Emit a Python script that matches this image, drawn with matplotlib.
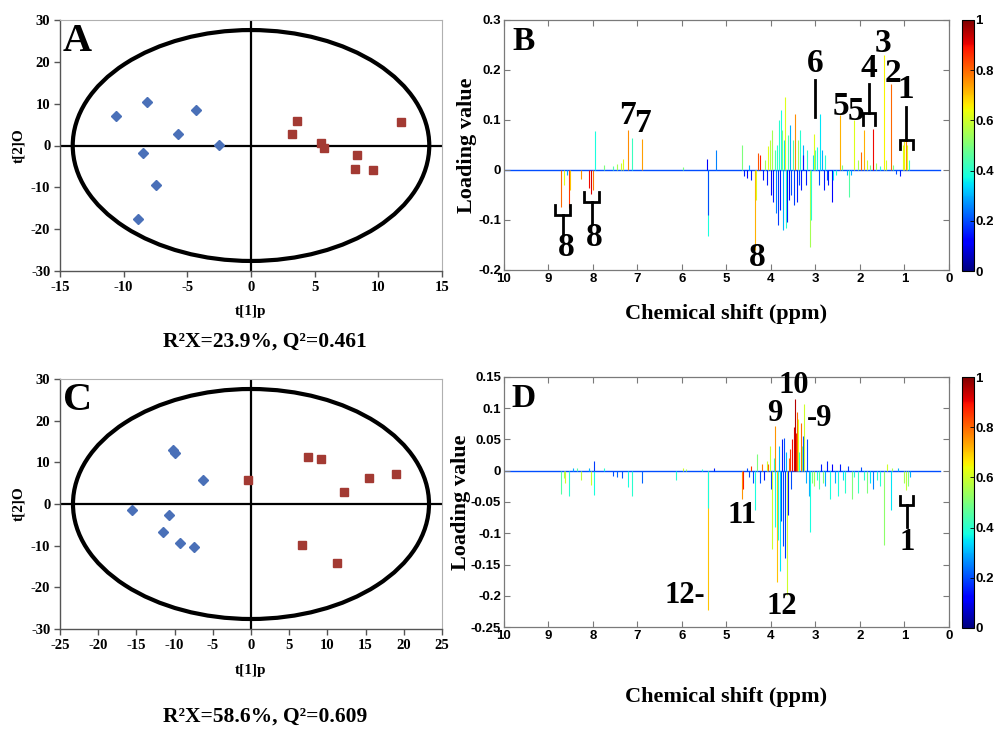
import matplotlib
matplotlib.use('Agg')
import matplotlib.pyplot as plt
from matplotlib.patches import Ellipse
from matplotlib import cm
from matplotlib.colors import Normalize

plt.rcParams['axes.unicode_minus'] = False
SERIF = 'Liberation Serif'
SANS = 'Liberation Sans'

# ---------------- data: score plots ----------------
A_ctrl_x = [-10.6, -8.2, -4.3, -5.7, -2.5, -8.5, -7.5, -8.9]
A_ctrl_y = [7.1, 10.4, 8.6, 2.7, 0.1, -1.7, -9.5, -17.5]
A_trt_x = [3.2, 3.6, 5.5, 5.7, 8.3, 8.2, 9.6, 11.8]
A_trt_y = [2.8, 5.9, 0.5, -0.7, -2.3, -5.6, -5.9, 5.6]
A_ellipse = [14.0, 27.6]
A_xticks = [-15, -10, -5, 0, 5, 10, 15]

C_ctrl_x = [-10.2, -10.0, -6.3, -15.6, -10.7, -11.5, -9.3, -7.5]
C_ctrl_y = [13.0, 12.2, 5.8, -1.5, -2.6, -6.6, -9.4, -10.3]
C_trt_x = [-0.4, 7.5, 9.1, 12.2, 15.4, 19.0, 6.7, 11.3]
C_trt_y = [5.7, 11.4, 10.8, 3.0, 6.2, 7.1, -9.8, -14.2]
C_ellipse = [23.3, 27.6]
C_xticks = [-25, -20, -15, -10, -5, 0, 5, 10, 15, 20, 25]
score_yticks = [-30, -20, -10, 0, 10, 20, 30]

A_stats = "R²X=23.9%, Q²=0.461"
C_stats = "R²X=58.6%, Q²=0.609"

# ---------------- data: loading plots (ppm, loading, colour weight) ----------------
B_ppm = [8.72, 8.66, 8.58, 8.55, 8.52, 8.27, 8.08, 8.05, 7.99, 7.96, 7.75, 7.55, 7.45, 7.38, 7.33,
         7.21, 7.12, 6.91, 5.98, 5.41, 5.41, 5.43, 5.24, 4.66, 4.60, 4.55, 4.50, 4.45, 4.36, 4.33,
         4.29, 4.25, 4.18, 4.14, 4.10, 4.06, 4.03, 4.00, 3.98, 3.95, 3.92, 3.89, 3.87, 3.85, 3.82,
         3.80, 3.78, 3.76, 3.73, 3.71, 3.69, 3.67, 3.65, 3.62, 3.59, 3.57, 3.54, 3.51, 3.48, 3.46,
         3.42, 3.40, 3.37, 3.35, 3.32, 3.29, 3.27, 3.22, 3.18, 3.12, 3.09, 3.06, 3.03, 3.00, 2.97,
         2.93, 2.90, 2.86, 2.82, 2.79, 2.75, 2.71, 2.64, 2.60, 2.55, 2.45, 2.40, 2.30, 2.24, 2.20,
         2.13, 2.05, 1.98, 1.91, 1.85, 1.78, 1.71, 1.65, 1.55, 1.46, 1.42, 1.31, 1.25, 1.20, 1.10,
         1.03, 1.00, 0.97, 0.94, 0.91]
B_load = [-0.073, -0.030, -0.010, -0.075, -0.040, -0.018, -0.035, -0.047, -0.040, 0.078, 0.010, 0.008,
          0.012, 0.015, 0.023, 0.080, 0.065, 0.062, 0.006, -0.132, -0.090, 0.022, 0.040, 0.050, -0.012,
          -0.015, 0.010, -0.020, -0.160, -0.060, 0.035, 0.030, -0.020, 0.020, -0.030, 0.048, 0.060,
          -0.050, 0.080, -0.063, 0.040, -0.085, 0.050, -0.110, 0.100, -0.080, 0.120, 0.080, -0.120,
          0.060, 0.147, -0.116, -0.103, 0.070, -0.060, 0.090, -0.050, 0.060, -0.070, 0.113, -0.063,
          0.060, -0.030, 0.080, -0.040, 0.050, 0.030, -0.030, 0.040, -0.153, -0.100, 0.030, 0.073,
          0.040, 0.047, -0.030, 0.113, 0.040, -0.040, 0.030, -0.020, -0.030, -0.063, -0.020, -0.010,
          0.110, 0.010, -0.010, -0.053, -0.010, 0.100, 0.020, 0.037, 0.080, 0.020, 0.010, 0.083,
          0.015, 0.008, 0.230, 0.020, 0.173, 0.010, -0.008, -0.012, 0.050, 0.063, 0.060, 0.050, 0.020]
B_color = [0.80, 0.62, 0.30, 0.85, 0.70, 0.75, 0.90, 0.92, 0.78, 0.38, 0.50, 0.45, 0.55, 0.60, 0.62,
           0.76, 0.42, 0.74, 0.50, 0.38, 0.20, 0.12, 0.25, 0.50, 0.15, 0.12, 0.30, 0.15, 0.72, 0.62,
           0.82, 0.88, 0.15, 0.55, 0.15, 0.62, 0.58, 0.12, 0.55, 0.15, 0.45, 0.25, 0.40, 0.18, 0.40,
           0.15, 0.38, 0.50, 0.30, 0.35, 0.62, 0.40, 0.15, 0.45, 0.12, 0.30, 0.20, 0.45, 0.18, 0.76,
           0.15, 0.55, 0.20, 0.40, 0.15, 0.30, 0.15, 0.15, 0.40, 0.55, 0.40, 0.35, 0.62, 0.45, 0.38,
           0.20, 0.35, 0.30, 0.15, 0.40, 0.20, 0.15, 0.12, 0.35, 0.40, 0.72, 0.50, 0.30, 0.45, 0.30,
           0.62, 0.55, 0.80, 0.72, 0.60, 0.50, 0.90, 0.55, 0.40, 0.65, 0.60, 0.80, 0.50, 0.20, 0.15,
           0.62, 0.65, 0.76, 0.62, 0.42]
B_baseline = [10.0, 0.2]

D_ppm = [8.72, 8.66, 8.62, 8.55, 8.45, 8.35, 8.27, 8.10, 8.05, 7.97, 7.97, 7.75, 7.55, 7.45, 7.35,
         7.21, 7.12, 6.91, 6.14, 5.98, 5.90, 5.55, 5.41, 5.41, 5.28, 4.66, 4.63, 4.55, 4.50, 4.45,
         4.40, 4.36, 4.32, 4.25, 4.20, 4.15, 4.10, 4.06, 4.02, 3.99, 3.97, 3.94, 3.92, 3.90, 3.87,
         3.85, 3.82, 3.80, 3.78, 3.76, 3.73, 3.71, 3.69, 3.67, 3.65, 3.62, 3.60, 3.57, 3.54, 3.52,
         3.49, 3.46, 3.44, 3.42, 3.39, 3.36, 3.33, 3.30, 3.28, 3.25, 3.22, 3.19, 3.15, 3.12, 3.08,
         3.03, 2.97, 2.92, 2.88, 2.83, 2.78, 2.74, 2.67, 2.62, 2.57, 2.49, 2.44, 2.39, 2.34, 2.28,
         2.19, 2.14, 2.04, 1.98, 1.92, 1.85, 1.77, 1.70, 1.62, 1.54, 1.46, 1.40, 1.31, 1.27, 1.15,
         1.00, 0.97, 0.93, 0.88]
D_load = [-0.038, -0.012, -0.020, -0.040, 0.005, 0.004, -0.015, 0.004, -0.023, -0.039, 0.015, 0.004,
          -0.008, -0.010, -0.012, -0.026, -0.040, -0.020, -0.015, 0.004, 0.003, 0.002, -0.223, -0.060,
          0.005, -0.045, -0.030, 0.005, -0.010, 0.008, -0.020, -0.063, 0.027, -0.020, 0.010, -0.015,
          0.015, 0.010, 0.040, -0.030, -0.125, 0.020, -0.090, 0.072, -0.178, -0.110, 0.040, -0.160,
          -0.080, 0.050, -0.120, 0.053, -0.140, 0.030, -0.199, -0.070, 0.020, 0.035, -0.030, 0.050,
          0.070, 0.115, 0.060, 0.094, 0.083, 0.030, 0.077, 0.040, 0.055, 0.107, -0.020, 0.050, -0.040,
          -0.098, -0.020, -0.025, -0.015, -0.030, 0.010, -0.020, -0.025, 0.015, -0.045, 0.010, -0.020,
          -0.040, 0.010, -0.015, -0.035, 0.008, -0.045, -0.010, -0.035, 0.006, -0.015, -0.035, -0.020,
          -0.030, -0.015, -0.025, -0.118, 0.010, -0.063, 0.005, 0.004, -0.020, -0.031, -0.025, -0.010]
D_color = [0.45, 0.55, 0.60, 0.40, 0.30, 0.45, 0.58, 0.30, 0.60, 0.38, 0.18, 0.40, 0.20, 0.22, 0.20,
           0.38, 0.40, 0.22, 0.40, 0.60, 0.55, 0.40, 0.70, 0.38, 0.15, 0.75, 0.88, 0.20, 0.20, 0.85,
           0.20, 0.38, 0.50, 0.20, 0.78, 0.15, 0.60, 0.80, 0.60, 0.18, 0.60, 0.40, 0.38, 0.75, 0.70,
           0.38, 0.30, 0.35, 0.20, 0.15, 0.20, 0.20, 0.18, 0.30, 0.60, 0.15, 0.80, 0.85, 0.20, 0.90,
           0.92, 0.95, 0.88, 0.80, 0.62, 0.40, 0.80, 0.50, 0.20, 0.60, 0.30, 0.20, 0.30, 0.38, 0.50,
           0.55, 0.40, 0.45, 0.15, 0.50, 0.30, 0.15, 0.38, 0.12, 0.30, 0.38, 0.15, 0.35, 0.40, 0.18,
           0.50, 0.40, 0.42, 0.20, 0.40, 0.50, 0.35, 0.25, 0.40, 0.40, 0.52, 0.60, 0.35, 0.55, 0.30,
           0.55, 0.58, 0.50, 0.30]
D_baseline = [10.0, 0.2]

spec_xticks = [10, 9, 8, 7, 6, 5, 4, 3, 2, 1, 0]
B_yticks = [-0.2, -0.1, 0, 0.1, 0.2, 0.3]
B_yticklabels = ['-0.2', '-0.1', '0', '0.1', '0.2', '0.3']
D_yticks = [-0.25, -0.2, -0.15, -0.1, -0.05, 0, 0.05, 0.1, 0.15]
D_yticklabels = ['-0.25', '-0.2', '-0.15', '-0.1', '-0.05', '0', '0.05', '0.1', '0.15']
cbar_ticks = [0, 0.2, 0.4, 0.6, 0.8, 1]
cbar_ticklabels = ['0', '0.2', '0.4', '0.6', '0.8', '1']

# annotations: (text, ppm, loading)
B_labels = [("8", 8.59, -0.156), ("8", 7.98, -0.134), ("8", 4.32, -0.176), ("7", 7.22, 0.11),
            ("7", 6.88, 0.093), ("6", 3.01, 0.213), ("5", 2.43, 0.127), ("5", 2.09, 0.117),
            ("4", 1.80, 0.203), ("3", 1.48, 0.253), ("2", 1.27, 0.193), ("1", 0.97, 0.16)]
# brackets: (x_left, x_right, y_end, y_bar, y_stem)
B_brackets = [(8.85, 8.52, -0.069, -0.089, -0.127), (8.20, 7.86, -0.043, -0.063, -0.107),
              (1.93, 1.66, 0.090, 0.115, 0.173), (1.10, 0.82, 0.043, 0.060, 0.127)]
# plain pointer lines: (x, y0, y1)
B_pointers = [(3.01, 0.107, 0.180)]

D_labels = [("10", 3.48, 0.136), ("9", 3.92, 0.091), ("-9", 2.91, 0.083), ("11", 4.66, -0.071),
            ("12", 3.76, -0.218), ("12-", 5.93, -0.199), ("1", 0.93, -0.114)]
D_brackets = [(1.10, 0.80, -0.040, -0.055, -0.090)]

# ---------------- figure ----------------
W, H = 995, 729
fig = plt.figure(figsize=(W / 100, H / 100), dpi=100)


def px_axes(l, t, r, b):
    return fig.add_axes([l / W, 1 - b / H, (r - l) / W, (b - t) / H])


def score_panel(ax, cx, cy, tx, ty, ell, xticks, letter):
    ax.add_patch(Ellipse((0, 0), 2 * ell[0], 2 * ell[1], fill=False, lw=3.0, color='black', zorder=2))
    ax.axvline(0, color='black', lw=1.6, zorder=2)
    ax.axhline(0, color='black', lw=1.6, zorder=2)
    ax.plot(cx, cy, linestyle='none', marker='D', ms=5, color='#4a70b8', zorder=3)
    ax.plot(tx, ty, linestyle='none', marker='s', ms=5.5, color='#a33a33', zorder=3)
    ax.set_xlim(xticks[0], xticks[-1])
    ax.set_ylim(-30, 30)
    ax.set_xticks(xticks)
    ax.set_yticks(score_yticks)
    for s in ['top', 'right']:
        ax.spines[s].set_color('#b0b0b0')
        ax.spines[s].set_linewidth(0.8)
    for s in ['left', 'bottom']:
        ax.spines[s].set_color('#555555')
        ax.spines[s].set_linewidth(1.0)
    ax.tick_params(direction='out', length=4, width=1, color='#555555', pad=3)
    for lab in ax.get_xticklabels() + ax.get_yticklabels():
        lab.set_fontfamily(SERIF)
        lab.set_fontweight('bold')
        lab.set_fontsize(10.5)
    ax.text(0.046, 0.915, letter, transform=ax.transAxes, fontsize=29, fontweight='bold',
            family=SERIF, ha='center', va='center')


axA = px_axes(60, 20, 442, 271)
score_panel(axA, A_ctrl_x, A_ctrl_y, A_trt_x, A_trt_y, A_ellipse, A_xticks, 'A')
axC = px_axes(60, 379, 442, 629)
score_panel(axC, C_ctrl_x, C_ctrl_y, C_trt_x, C_trt_y, C_ellipse, C_xticks, 'C')

for ax in (axA, axC):
    ax.set_xlabel('t[1]p', family=SERIF, fontweight='bold', fontsize=11, labelpad=4)
    ax.set_ylabel('t[2]O', family=SERIF, fontweight='bold', fontsize=11, labelpad=4)
    ax.yaxis.set_label_coords(-0.09, 0.5)

axA.xaxis.set_label_coords(0.5, -0.135)
axC.xaxis.set_label_coords(0.5, -0.14)

fig.text(265 / W, 1 - 342 / H, A_stats, family=SERIF, fontweight='bold', fontsize=15.5,
         ha='center', va='center')
fig.text(265 / W, 1 - 717 / H, C_stats, family=SERIF, fontweight='bold', fontsize=15.5,
         ha='center', va='center')

cmap = plt.get_cmap('jet')
norm = Normalize(0, 1)


def loading_panel(ax, ppm, load, col, base, yticks, ylabels, ylim, letter, labels, brackets,
                  pointers, fsz, ylab_x):
    ax.plot(base, [0, 0], color=cmap(0.2), lw=1.0, zorder=1)
    ax.vlines(ppm, 0, load, colors=[cmap(norm(c)) for c in col], lw=0.8, zorder=2)
    ax.set_xlim(10, 0)
    ax.set_ylim(*ylim)
    ax.set_xticks(spec_xticks)
    ax.set_xticklabels([str(t) for t in spec_xticks])
    ax.set_yticks(yticks)
    ax.set_yticklabels(ylabels)
    for s in ax.spines.values():
        s.set_color('#7a7a7a')
        s.set_linewidth(0.9)
    ax.tick_params(direction='in', length=4, width=0.8, color='#7a7a7a', top=True, right=True,
                   pad=2)
    for lab in ax.get_xticklabels() + ax.get_yticklabels():
        lab.set_fontfamily(SANS)
        lab.set_fontweight('bold')
        lab.set_fontsize(9.5)
    ax.set_ylabel('Loading value', family=SERIF, fontweight='bold', fontsize=16)
    ax.yaxis.set_label_coords(ylab_x, 0.5)
    ax.set_xlabel('Chemical shift (ppm)', family=SERIF, fontweight='bold', fontsize=16)
    ax.text(0.043, 0.915, letter, transform=ax.transAxes, fontsize=24, fontweight='bold',
            family=SERIF, ha='center', va='center')
    for t, x, y in labels:
        ax.text(x, y, t, fontsize=fsz, fontweight='bold', family=SERIF, ha='center',
                va='center', zorder=5)
    for xl, xr, ye, yb, ys in brackets:
        xm = (xl + xr) / 2
        ax.plot([xl, xl, xr, xr], [ye, yb, yb, ye], color='black', lw=2.0, zorder=4,
                solid_joinstyle='miter')
        ax.plot([xm, xm], [yb, ys], color='black', lw=2.0, zorder=4)
    for x, y0, y1 in pointers:
        ax.plot([x, x], [y0, y1], color='black', lw=2.0, zorder=4)


axB = px_axes(504, 20, 949, 270)
loading_panel(axB, B_ppm, B_load, B_color, B_baseline, B_yticks, B_yticklabels, (-0.2, 0.3), 'B',
              B_labels, B_brackets, B_pointers, 24, -0.06)
axB.xaxis.set_label_coords(0.5, -0.135)

axD = px_axes(504, 377, 949, 627)
loading_panel(axD, D_ppm, D_load, D_color, D_baseline, D_yticks, D_yticklabels, (-0.25, 0.15), 'D',
              D_labels, D_brackets, [], 22, -0.075)
axD.xaxis.set_label_coords(0.5, -0.24)

sm = cm.ScalarMappable(norm=norm, cmap=cmap)
for top, bot in ((20, 271), (377, 628)):
    cax = px_axes(962, top, 974, bot)
    cb = fig.colorbar(sm, cax=cax)
    cb.set_ticks(cbar_ticks)
    cb.set_ticklabels(cbar_ticklabels)
    cb.outline.set_linewidth(0.8)
    cax.tick_params(direction='in', length=3, width=0.6, pad=1)
    for lab in cax.get_yticklabels():
        lab.set_fontfamily(SANS)
        lab.set_fontweight('bold')
        lab.set_fontsize(9.5)

fig.savefig('out.png', dpi=100)
